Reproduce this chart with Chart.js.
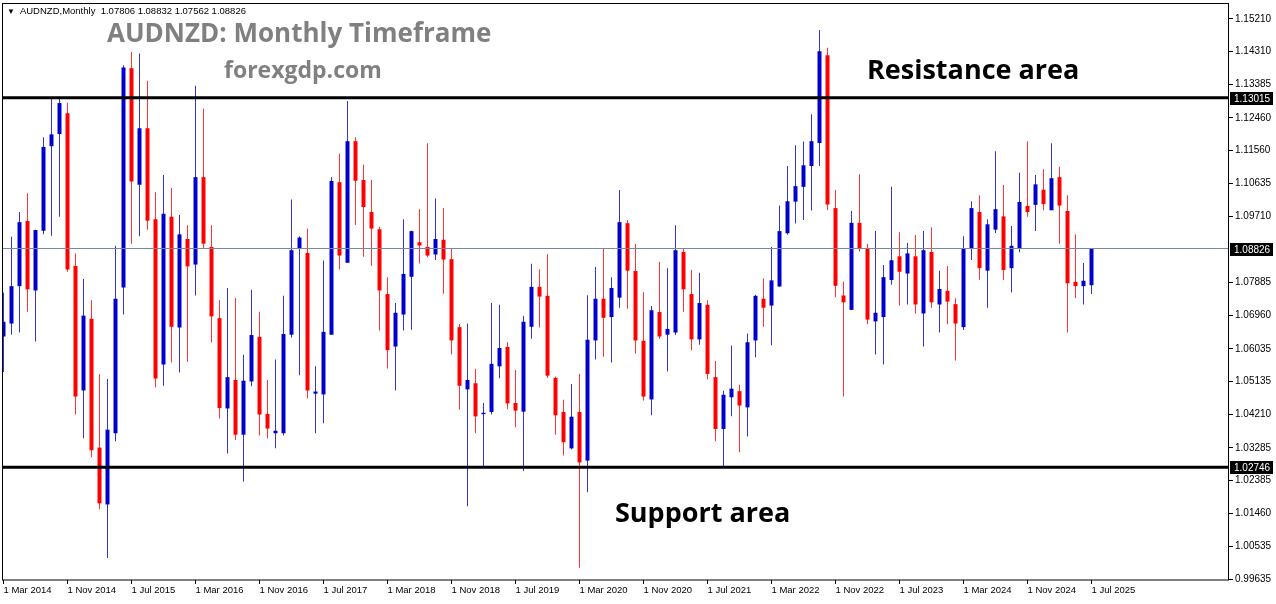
<!DOCTYPE html>
<html>
<head>
<meta charset="utf-8"/>
<style>
  html,body{margin:0;padding:0;background:#fff;}
  .wrap{position:relative;width:1276px;height:604px;overflow:hidden;}
  canvas{position:absolute;left:0;top:0;}
  .txt{position:absolute;white-space:nowrap;line-height:1;}
  .head{left:7px;top:5px;font:9.5px "Liberation Sans",Arial,sans-serif;color:#000;}
  .head .tri{font-size:8px;margin-right:5px;}
  .title{left:107px;top:14px;font:700 26px "Open Sans",sans-serif;color:#808080;}
  .site{left:224px;top:53px;font:700 23px "Open Sans",sans-serif;color:#808080;}
  .note{font:700 27px "Open Sans",sans-serif;color:#000;}
</style>
</head>
<body>
<div class="wrap">
  <canvas id="c" width="1276" height="604"></canvas>
  <div class="txt head" id="head"></div>
  <div class="txt title">AUDNZD: Monthly Timeframe</div>
  <div class="txt site">forexgdp.com</div>
  <div class="txt note" style="left:867px;top:50px;">Resistance area</div>
  <div class="txt note" style="left:615px;top:493px;">Support area</div>
</div>
<script src="https://cdn.jsdelivr.net/npm/chart.js@4.4.0/dist/chart.umd.min.js"></script>
<script>
// monthly candles, Mar 2014 .. Jul 2025
const open = [
  1.0638,1.0674,1.0778,1.0959,1.0766,1.0932,1.1167,1.1201,1.1259,1.0834,
  1.0488,1.0687,1.0329,1.0171,1.0369,1.0774,1.1384,1.1060,1.1217,1.0964,
  1.0560,1.0971,1.0663,1.0909,1.0838,1.1081,1.0887,1.0689,1.0438,1.0517,
  1.0365,1.0513,1.0637,1.0423,1.0369,1.0369,1.0643,1.0884,1.0870,1.0479,
  1.0477,1.0643,1.1067,1.0843,1.1181,1.1073,1.0984,1.0936,1.0756,1.0610,
  1.0699,1.0804,1.0900,1.0887,1.0866,1.0907,1.0853,1.0664,1.0491,1.0508,
  1.0422,1.0428,1.0555,1.0609,1.0453,1.0429,1.0665,1.0776,1.0751,1.0523,
  1.0428,1.0327,1.0428,1.0293,1.0627,1.0743,1.0692,1.0746,1.0953,1.0820,
  1.0626,1.0463,1.0706,1.0643,1.0649,1.0873,1.0756,1.0630,1.0726,1.0525,
  1.0381,1.0469,1.0486,1.0441,1.0627,1.0743,1.0724,1.0777,1.0925,1.1013,
  1.1054,1.1112,1.1176,1.1420,1.0995,1.0752,1.0712,1.0954,1.0883,1.0680,
  1.0692,1.0795,1.0861,1.0813,1.0861,1.0702,1.0873,1.0727,1.0765,1.0728,
  1.0664,1.0882,1.0984,1.0821,1.0935,1.0972,1.0828,1.0884,1.1001,1.1004,
  1.1046,1.0989,1.1081,1.0987,1.0790,1.0778,1.07806
];
const high = [
  1.0760,1.0915,1.0984,1.1036,1.0935,1.1192,1.1300,1.1298,1.1288,1.0869,
  1.0798,1.0739,1.0533,1.0520,1.0890,1.1392,1.1429,1.1425,1.1349,1.1039,
  1.1087,1.1051,1.0976,1.0947,1.1335,1.1272,1.0947,1.0739,1.0773,1.0745,
  1.0587,1.0768,1.0707,1.0517,1.0574,1.0751,1.1019,1.0917,1.0938,1.0555,
  1.0849,1.1081,1.1146,1.1293,1.1192,1.1116,1.1073,1.0943,1.0803,1.0731,
  1.0964,1.0932,1.0992,1.1175,1.1022,1.0995,1.0881,1.0673,1.0674,1.0548,
  1.0453,1.0731,1.0726,1.0622,1.0545,1.0696,1.0840,1.0825,1.0867,1.0527,
  1.0462,1.0506,1.0534,1.0753,1.0831,1.0883,1.0803,1.1045,1.0962,1.0895,
  1.0761,1.0723,1.0845,1.0828,1.0947,1.0884,1.0823,1.0815,1.0739,1.0570,
  1.0487,1.0613,1.0504,1.0646,1.0754,1.0799,1.0887,1.1002,1.1112,1.1170,
  1.1180,1.1256,1.1490,1.1441,1.1045,1.0790,1.0987,1.1089,1.0896,1.0931,
  1.0837,1.1054,1.0928,1.0898,1.0920,1.0931,1.0942,1.0821,1.0834,1.0744,
  1.0917,1.1014,1.1031,1.0964,1.1153,1.1059,1.0945,1.1093,1.1181,1.1087,
  1.1103,1.1175,1.1110,1.1031,1.0922,1.0842,1.08832
];
const low = [
  1.0539,1.0643,1.0649,1.0707,1.0624,1.0922,1.0918,1.0971,1.0818,1.0421,
  1.0355,1.0302,1.0158,1.0022,1.0347,1.0699,1.0896,1.0917,1.0935,1.0496,
  1.0501,1.0566,1.0538,1.0568,1.0752,1.0881,1.0621,1.0410,1.0313,1.0350,
  1.0235,1.0500,1.0363,1.0355,1.0327,1.0363,1.0635,1.0530,1.0466,1.0369,
  1.0397,1.0643,1.0824,1.0843,1.0948,1.0860,1.0835,1.0655,1.0549,1.0488,
  1.0655,1.0657,1.0841,1.0858,1.0851,1.0757,1.0588,1.0435,1.0166,1.0369,
  1.0275,1.0421,1.0522,1.0436,1.0386,1.0264,1.0632,1.0663,1.0523,1.0365,
  1.0307,1.0324,0.9995,1.0205,1.0574,1.0582,1.0566,1.0718,1.0715,1.0591,
  1.0460,1.0419,1.0632,1.0541,1.0642,1.0707,1.0600,1.0615,1.0519,1.0347,
  1.0275,1.0416,1.0316,1.0360,1.0580,1.0665,1.0614,1.0776,1.0921,1.0952,
  1.0962,1.0988,1.1112,1.0990,1.0747,1.0471,1.0712,1.0874,1.0672,1.0588,
  1.0560,1.0782,1.0724,1.0727,1.0702,1.0610,1.0718,1.0649,1.0672,1.0571,
  1.0656,1.0851,1.0796,1.0718,1.0926,1.0795,1.0760,1.0872,1.0971,1.0931,
  1.0989,1.0989,1.0896,1.0649,1.0745,1.0727,1.07562
];
const close = [
  1.0679,1.0778,1.0956,1.0769,1.0934,1.1165,1.1200,1.1287,1.0824,1.0471,
  1.0696,1.0322,1.0174,1.0379,1.0743,1.1386,1.1069,1.1217,1.0960,1.0521,
  1.0979,1.0665,1.0922,1.0833,1.1081,1.0896,1.0694,1.0439,1.0525,1.0365,
  1.0515,1.0642,1.0421,1.0382,1.0376,1.0645,1.0878,1.0913,1.0488,1.0485,
  1.0651,1.1070,1.0863,1.1181,1.1071,1.0998,1.0938,1.0766,1.0600,1.0704,
  1.0812,1.0931,1.0891,1.0863,1.0909,1.0852,1.0627,1.0501,1.0517,1.0416,
  1.0426,1.0562,1.0606,1.0452,1.0432,1.0679,1.0776,1.0749,1.0529,1.0419,
  1.0344,1.0415,1.0288,1.0629,1.0743,1.0690,1.0773,1.0956,1.0821,1.0627,
  1.0471,1.0711,1.0638,1.0659,1.0878,1.0769,1.0630,1.0731,1.0534,1.0381,
  1.0476,1.0493,1.0446,1.0622,1.0751,1.0718,1.0794,1.0931,1.1014,1.1056,
  1.1114,1.1181,1.1431,1.1005,1.0779,1.0733,1.0954,1.0881,1.0685,1.0704,
  1.0803,1.0850,1.0818,1.0869,1.0727,1.0878,1.0733,1.0770,1.0735,1.0674,
  1.0882,1.0995,1.0828,1.0950,1.0992,1.0823,1.0890,1.1012,1.0984,1.1061,
  1.1006,1.1078,1.1002,1.0786,1.0778,1.0793,1.08826
];

const MON = ['Jan','Feb','Mar','Apr','May','Jun','Jul','Aug','Sep','Oct','Nov','Dec'];
const months = open.map((_, i) => MON[(2 + i) % 12] + ' ' + (2014 + Math.floor((2 + i) / 12)));

const xTickIdx    = [0,8,16,24,32,40,48,56,64,72,80,88,96,104,112,120,128,136];
const xTickLabels = ['1 Mar 2014','1 Nov 2014','1 Jul 2015','1 Mar 2016','1 Nov 2016','1 Jul 2017',
                     '1 Mar 2018','1 Nov 2018','1 Jul 2019','1 Mar 2020','1 Nov 2020','1 Jul 2021',
                     '1 Mar 2022','1 Nov 2022','1 Jul 2023','1 Mar 2024','1 Nov 2024','1 Jul 2025'];
const yTicks = [1.15210,1.14310,1.13385,1.12460,1.11560,1.10635,1.09710,1.07885,1.06960,
                1.06035,1.05135,1.04210,1.03285,1.02385,1.01460,1.00535,0.99635];

const resistance = 1.13015;
const support    = 1.02746;
const lastPrice  = close[close.length - 1];
const markers    = [resistance, lastPrice, support];

const n = open.length - 1;
document.getElementById('head').innerHTML =
  '<span class="tri">▼</span>AUDNZD,Monthly&nbsp; ' +
  [open[n], high[n], low[n], close[n]].map(v => v.toFixed(5)).join(' ');

const BLUE = '#0000CD', RED = '#FF0000';
const X_MIN = -0.1875, X_MAX = 153.1875;
const colorOf = (ctx) => close[ctx.dataIndex] >= open[ctx.dataIndex] ? BLUE : RED;
const hline = (v) => [{ x: X_MIN, y: v }, { x: X_MAX, y: v }];

const frame = {
  id: 'frame',
  afterDraw(chart) {
    const { ctx, chartArea: a, scales: { y } } = chart;
    ctx.save();
    ctx.strokeStyle = '#000';
    ctx.lineWidth = 1;
    ctx.strokeRect(a.left + 0.5, a.top + 0.5, a.right - a.left - 1, a.bottom - a.top - 0.5);
    ctx.font = '10px "Liberation Sans", Arial, sans-serif';
    ctx.textBaseline = 'middle';
    markers.forEach(m => {
      const py = Math.round(y.getPixelForValue(m));
      ctx.fillStyle = '#000';
      ctx.fillRect(a.right + 1, py - 6, 43, 13);
      ctx.fillStyle = '#fff';
      ctx.fillText(m.toFixed(5), a.right + 5, py + 1);
    });
    ctx.restore();
  }
};

Chart.defaults.font.family = '"Liberation Sans", Arial, sans-serif';
Chart.defaults.font.size = 10;
Chart.defaults.color = '#000';

new Chart(document.getElementById('c'), {
  type: 'bar',
  data: {
    labels: months,
    datasets: [
      { type: 'line', data: hline(resistance), borderColor: '#000', borderWidth: 3, pointRadius: 0, order: 0 },
      { type: 'line', data: hline(support),    borderColor: '#000', borderWidth: 3, pointRadius: 0, order: 0 },
      { type: 'line', data: hline(lastPrice),  borderColor: '#778899', borderWidth: 1, pointRadius: 0, order: 1 },
      { label: 'body', data: open.map((o, i) => ({ x: i, y: [o, close[i]] })),
        backgroundColor: colorOf, grouped: false, barPercentage: 0.625, minBarLength: 1, order: 2 },
      { label: 'wick', data: low.map((l, i) => ({ x: i, y: [l, high[i]] })),
        backgroundColor: colorOf, grouped: false, barPercentage: 0.125, order: 3 }
    ]
  },
  options: {
    responsive: false,
    animation: false,
    layout: { padding: { left: 2, top: 3, right: 0, bottom: 0 } },
    plugins: { legend: { display: false }, tooltip: { enabled: false } },
    scales: {
      x: {
        type: 'linear', min: X_MIN, max: X_MAX, offset: false,
        afterBuildTicks: s => { s.ticks = xTickIdx.map(v => ({ value: v })); },
        afterFit: s => { s.height = 24; s.paddingLeft = 0; s.paddingRight = 0; },
        grid: { drawOnChartArea: false, color: '#000', tickLength: 4, offset: false },
        border: { display: false },
        ticks: { autoSkip: false, maxRotation: 0, align: 'start', padding: 1,
                 font: { size: 9.5 }, callback: (v, i) => xTickLabels[i] }
      },
      y: {
        position: 'right', min: 0.99610, max: 1.15652,
        afterBuildTicks: s => { s.ticks = yTicks.map(v => ({ value: v })); },
        afterFit: s => { s.width = 47; s.paddingTop = 0; s.paddingBottom = 0; },
        grid: { drawOnChartArea: false, color: '#000', tickLength: 4 },
        border: { display: false },
        ticks: { autoSkip: false, padding: 2, callback: v => v.toFixed(5) }
      }
    }
  },
  plugins: [frame]
});
</script>
</body>
</html>
